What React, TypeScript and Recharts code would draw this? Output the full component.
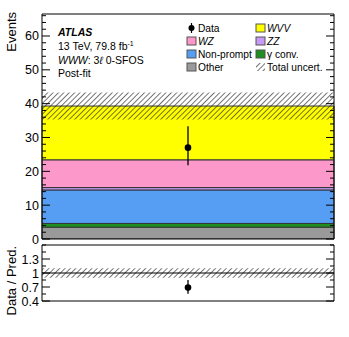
import { ComposedChart, Bar, Scatter, ErrorBar, XAxis, YAxis, ReferenceLine } from 'recharts';

// one signal-region bin, post-fit yields
const bins = ['SR'];
const other = [3.5];
const gammaConv = [1.1];
const nonPrompt = [9.9];
const zz = [0.7];
const wz = [8.2];
const wvv = [15.9];
const totalUnc = [4.0];
const dataCounts = [27];
const dataErrLow = [5.2];
const dataErrHigh = [6.3];

const mainYMax = 66.5;
const mainTicks = [0, 2, 4, 6, 8, 10, 12, 14, 16, 18, 20, 22, 24, 26, 28, 30, 32, 34, 36, 38, 40, 42, 44, 46, 48, 50, 52, 54, 56, 58, 60, 62, 64, 66];
const mainLabels = [0, 10, 20, 30, 40, 50, 60];

const ratioMin = 0.4;
const ratioMax = 1.6;
const ratioTicks = [0.4, 0.55, 0.7, 0.85, 1.0, 1.15, 1.3, 1.45, 1.6];
const ratioLabels = ['0.4', '0.7', '1', '1.3'];

const FONT = '"Liberation Sans", Arial, Helvetica, sans-serif';

const rows = bins.map((bin, i) => {
  const total = other[i] + gammaConv[i] + nonPrompt[i] + zz[i] + wz[i] + wvv[i];
  return {
    bin,
    other: other[i],
    gammaConv: gammaConv[i],
    nonPrompt: nonPrompt[i],
    zz: zz[i],
    wz: wz[i],
    wvv: wvv[i],
    unc: [total - totalUnc[i], total + totalUnc[i]],
    data: dataCounts[i],
    dataErr: [dataErrLow[i], dataErrHigh[i]],
  };
});

const ratioRows = bins.map((bin, i) => {
  const total = other[i] + gammaConv[i] + nonPrompt[i] + zz[i] + wz[i] + wvv[i];
  return {
    bin,
    band: [1 - totalUnc[i] / total, 1 + totalUnc[i] / total],
    ratio: dataCounts[i] / total,
    ratioErr: [dataErrLow[i] / total, dataErrHigh[i] / total],
  };
});

const stack = [
  { key: 'other', color: '#9a9a9a' },
  { key: 'gammaConv', color: '#1f8f1f' },
  { key: 'nonPrompt', color: '#569ef4' },
  { key: 'zz', color: '#c79bf7' },
  { key: 'wz', color: '#fd98ca' },
  { key: 'wvv', color: '#ffff00' },
];

const legendItems = [
  { label: 'Data', kind: 'data', italic: false, col: 0, row: 0 },
  { label: 'WVV', kind: 'box', color: '#ffff00', italic: true, col: 1, row: 0 },
  { label: 'WZ', kind: 'box', color: '#fd98ca', italic: true, col: 0, row: 1 },
  { label: 'ZZ', kind: 'box', color: '#c79bf7', italic: true, col: 1, row: 1 },
  { label: 'Non-prompt', kind: 'box', color: '#569ef4', italic: false, col: 0, row: 2 },
  { label: 'γ conv.', kind: 'box', color: '#1f8f1f', italic: false, col: 1, row: 2 },
  { label: 'Other', kind: 'box', color: '#9a9a9a', italic: false, col: 0, row: 3 },
  { label: 'Total uncert.', kind: 'hatch', italic: false, col: 1, row: 3 },
];

function HatchDef({ id }: { id: string }) {
  return (
    <defs>
      <pattern id={id} patternUnits="userSpaceOnUse" width="3.8" height="3.8" patternTransform="rotate(45)">
        <line x1="0" y1="0" x2="0" y2="3.8" stroke="#222" strokeWidth={1.25} />
      </pattern>
    </defs>
  );
}

const makeTick = (side: 'left' | 'right', isMajor: (v: number) => boolean, fmt: (v: number) => string | null, majorLen: number, minorLen: number) =>
  (props: any) => {
    const { x, y, payload } = props;
    const v = payload.value;
    const major = isMajor(v);
    const len = major ? majorLen : minorLen;
    const dir = side === 'left' ? 1 : -1;
    const label = side === 'left' && major ? fmt(v) : null;
    return (
      <g>
        <line x1={x} x2={x + dir * len} y1={y} y2={y} stroke="#000" strokeWidth={1} />
        {label !== null && (
          <text x={x - 3} y={y} dy="0.36em" textAnchor="end" fontSize={12.5} fill="#000" fontFamily={FONT}>
            {label}
          </text>
        )}
      </g>
    );
  };

const mainMajor = (v: number) => mainLabels.includes(v);
const mainFmt = (v: number) => String(v);
const ratioMajor = (v: number) => ratioLabels.some((l) => Math.abs(parseFloat(l) - v) < 1e-6);
const ratioFmt = (v: number) => ratioLabels.find((l) => Math.abs(parseFloat(l) - v) < 1e-6) ?? null;

export default function App() {
  return (
    <div style={{ position: 'absolute', left: 0, top: 0, width: 349, height: 337, background: '#fff', fontFamily: FONT }}>
      <div style={{ position: 'absolute', left: 0, top: 0 }}>
        <ComposedChart width={349} height={248} data={rows} margin={{ top: 14, right: 14, left: 0, bottom: 9 }} barCategoryGap={0} barGap={0}>
          <HatchDef id="hatchMain" />
          <XAxis dataKey="bin" hide />
          <XAxis dataKey="bin" xAxisId="u" hide />
          <YAxis
            yAxisId="l"
            type="number"
            domain={[0, mainYMax]}
            ticks={mainTicks}
            interval={0}
            allowDataOverflow
            width={42}
            tickSize={0}
            tickMargin={0}
            tickLine={false}
            axisLine={{ stroke: '#000' }}
            tick={makeTick('left', mainMajor, mainFmt, 8, 4)}
          />
          <YAxis
            yAxisId="r"
            orientation="right"
            type="number"
            domain={[0, mainYMax]}
            ticks={mainTicks}
            interval={0}
            allowDataOverflow
            width={1}
            tickSize={0}
            tickMargin={0}
            tickLine={false}
            axisLine={{ stroke: '#000' }}
            tick={makeTick('right', mainMajor, mainFmt, 8, 4)}
          />
          {stack.map((s) => (
            <Bar key={s.key} dataKey={s.key} stackId="bkg" yAxisId="l" fill={s.color} stroke="#333" strokeWidth={1} isAnimationActive={false} />
          ))}
          <Bar dataKey="unc" xAxisId="u" yAxisId="r" fill="url(#hatchMain)" stroke="none" isAnimationActive={false} />
          <ReferenceLine yAxisId="l" y={0} stroke="#000" />
          <ReferenceLine yAxisId="l" y={mainYMax} stroke="#000" />
          <Scatter dataKey="data" xAxisId="u" yAxisId="r" fill="#000" isAnimationActive={false}
            shape={(p: any) => <circle cx={p.cx} cy={p.cy} r={3.3} fill="#000" />}>
            <ErrorBar dataKey="dataErr" direction="y" width={0} stroke="#000" strokeWidth={1.3} />
          </Scatter>
        </ComposedChart>
      </div>

      <div style={{ position: 'absolute', left: 0, top: 236 }}>
        <ComposedChart width={349} height={101} data={ratioRows} margin={{ top: 9, right: 14, left: 0, bottom: 36 }} barCategoryGap={0} barGap={0}>
          <HatchDef id="hatchRatio" />
          <XAxis dataKey="bin" hide />
          <XAxis dataKey="bin" xAxisId="u" hide />
          <YAxis
            yAxisId="l"
            type="number"
            domain={[ratioMin, ratioMax]}
            ticks={ratioTicks}
            interval={0}
            allowDataOverflow
            width={42}
            tickSize={0}
            tickMargin={0}
            tickLine={false}
            axisLine={{ stroke: '#000' }}
            tick={makeTick('left', ratioMajor, ratioFmt, 8, 4)}
          />
          <YAxis
            yAxisId="r"
            orientation="right"
            type="number"
            domain={[ratioMin, ratioMax]}
            ticks={ratioTicks}
            interval={0}
            allowDataOverflow
            width={1}
            tickSize={0}
            tickMargin={0}
            tickLine={false}
            axisLine={{ stroke: '#000' }}
            tick={makeTick('right', ratioMajor, ratioFmt, 8, 4)}
          />
          <Bar dataKey="band" yAxisId="l" fill="url(#hatchRatio)" stroke="none" isAnimationActive={false} />
          <ReferenceLine yAxisId="l" y={1} stroke="#000" strokeWidth={1.2} />
          <ReferenceLine yAxisId="l" y={ratioMin} stroke="#000" />
          <ReferenceLine yAxisId="l" y={ratioMax} stroke="#000" />
          <Scatter dataKey="ratio" xAxisId="u" yAxisId="r" fill="#000" isAnimationActive={false}
            shape={(p: any) => <circle cx={p.cx} cy={p.cy} r={3.3} fill="#000" />}>
            <ErrorBar dataKey="ratioErr" direction="y" width={0} stroke="#000" strokeWidth={1.3} />
          </Scatter>
        </ComposedChart>
      </div>

      <svg width={349} height={337} style={{ position: 'absolute', left: 0, top: 0, pointerEvents: 'none' }}>
        <HatchDef id="hatchLeg" />
        <text transform="translate(16,12) rotate(-90)" textAnchor="end" fontSize={13} fill="#000">Events</text>
        <text transform="translate(16,246) rotate(-90)" textAnchor="end" fontSize={13} fill="#000">Data / Pred.</text>

        <text x={58} y={36} fontSize={10.5} fontWeight="bold" fontStyle="italic" fill="#000">ATLAS</text>
        <text x={58} y={50} fontSize={10.5} fill="#000">
          13 TeV, 79.8 fb<tspan dy={-4} fontSize={7}>-1</tspan>
        </text>
        <text x={58} y={63.5} fontSize={10.5} fill="#000">
          <tspan fontStyle="italic">WWW</tspan>: 3<tspan fontStyle="italic">ℓ</tspan> 0-SFOS
        </text>
        <text x={58} y={77} fontSize={10.5} fill="#000">Post-fit</text>

        {legendItems.map((it) => {
          const bx = it.col === 0 ? 187 : 256;
          const cy = 28 + it.row * 13;
          return (
            <g key={it.label}>
              {it.kind === 'data' && (
                <g>
                  <line x1={bx + 4.5} x2={bx + 4.5} y1={cy - 5} y2={cy + 5} stroke="#000" strokeWidth={1.2} />
                  <circle cx={bx + 4.5} cy={cy} r={3} fill="#000" />
                </g>
              )}
              {it.kind === 'box' && <rect x={bx} y={cy - 4} width={9} height={8} fill={it.color} stroke="#555" strokeWidth={1} />}
              {it.kind === 'hatch' && <rect x={bx} y={cy - 4} width={9} height={8} fill="url(#hatchLeg)" />}
              <text x={bx + 11} y={cy + 3.6} fontSize={10.2} fontStyle={it.italic ? 'italic' : 'normal'} fill="#000">
                {it.label}
              </text>
            </g>
          );
        })}
      </svg>
    </div>
  );
}
